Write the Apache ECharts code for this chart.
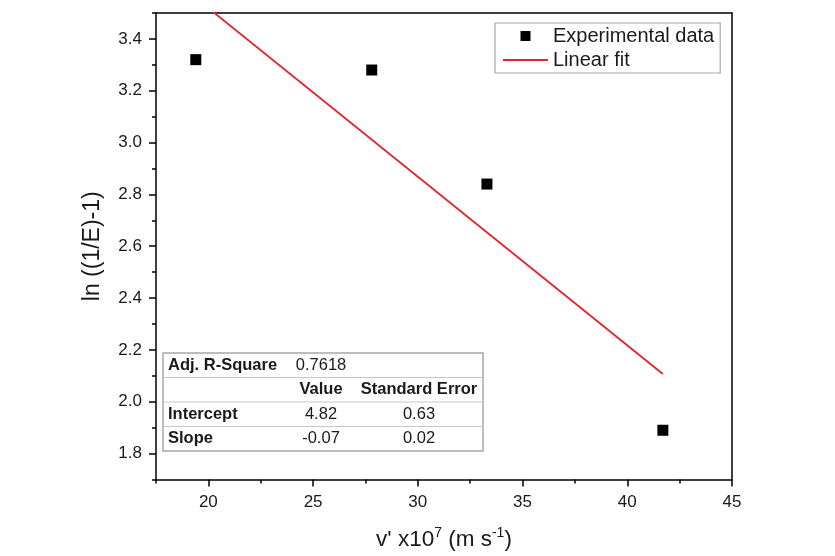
<!DOCTYPE html>
<html>
<head>
<meta charset="utf-8">
<script src="https://cdn.jsdelivr.net/npm/echarts@6/dist/echarts.min.js"></script>
<style>html,body{margin:0;padding:0;background:#fff}#c{width:835px;height:556px}</style>
</head>
<body>
<div id="c"></div>
<script>
// ---- data ----
var expX = [19.4, 27.8, 33.3, 41.7];
var expY = [3.32, 3.28, 2.84, 1.89];
var fitX = [19.4, 41.7];
var fitY = [3.558, 2.107];
var xMajor = [20, 25, 30, 35, 40, 45];
var xMinor = [17.5, 22.5, 27.5, 32.5, 37.5, 42.5];
var yMajor = [1.8, 2.0, 2.2, 2.4, 2.6, 2.8, 3.0, 3.2, 3.4];
var yMinor = [1.7, 1.9, 2.1, 2.3, 2.5, 2.7, 2.9, 3.1, 3.3, 3.5];
var tableRows = [
  ['Adj. R-Square', '0.7618', ''],
  ['', 'Value', 'Standard Error'],
  ['Intercept', '4.82', '0.63'],
  ['Slope', '-0.07', '0.02']
];
var legendNames = ['Experimental data', 'Linear fit'];

var FONT = 'Liberation Sans, Arial, sans-serif';
var TXT = '#1a1a1a';

function pairs(a, b) { return a.map(function (v, i) { return [v, b[i]]; }); }

// table graphic (annotation)
var tbl = { left: 163, top: 353, width: 320, rowH: 24.5 };
var colX = [168, 321, 419];
var tableEls = [];
tableEls.push({ type: 'rect', shape: { x: tbl.left, y: tbl.top, width: tbl.width, height: tbl.rowH * 4 },
  style: { fill: '#fff', stroke: '#a8a8a8', lineWidth: 1.5 }, z: 100 });
for (var r = 1; r < 4; r++) {
  tableEls.push({ type: 'line', shape: { x1: tbl.left, y1: tbl.top + r * tbl.rowH, x2: tbl.left + tbl.width, y2: tbl.top + r * tbl.rowH },
    style: { stroke: '#c8c8c8', lineWidth: 1 }, z: 101 });
}
tableRows.forEach(function (row, ri) {
  row.forEach(function (cell, ci) {
    if (!cell) return;
    var bold = (ci === 0) || (ri === 1);
    tableEls.push({ type: 'text', z: 102,
      x: colX[ci], y: tbl.top + ri * tbl.rowH + tbl.rowH / 2,
      style: { text: cell, font: (bold ? 'bold ' : '') + '16.5px ' + FONT, fill: TXT,
        align: ci === 0 ? 'left' : 'center', verticalAlign: 'middle' } });
  });
});

var chart = echarts.init(document.getElementById('c'), null, { renderer: 'canvas' });
chart.setOption({
  animation: false,
  backgroundColor: '#fff',
  grid: { left: 156, right: 103, top: 13, bottom: 76, containLabel: false },
  legend: {
    orient: 'vertical', left: 495, top: 23,
    padding: [3, 6, 3, 8],
    borderColor: '#a8a8a8', borderWidth: 1.2, backgroundColor: '#fff',
    itemWidth: 45, itemHeight: 10, itemGap: 4,
    symbolKeepAspect: true,
    textStyle: { fontFamily: FONT, fontSize: 20, color: TXT, lineHeight: 20 },
    data: [
      { name: legendNames[0], icon: 'path://M0,0h10v10h-10z' },
      { name: legendNames[1], icon: 'path://M0,0h45v1.8h-45z' }
    ]
  },
  xAxis: [
    {
      type: 'value', position: 'bottom', min: 17.5, max: 45,
      name: "v' x10{sup|7} (m s{sup|-1})", nameLocation: 'middle', nameGap: 47,
      nameTextStyle: { fontFamily: FONT, fontSize: 22.5, color: TXT,
        rich: { sup: { fontFamily: FONT, fontSize: 14, color: TXT, verticalAlign: 'top', padding: [0, 0, 12, 0] } } },
      axisLine: { show: true, onZero: false, lineStyle: { color: '#000', width: 1.5 } },
      axisTick: { show: true, inside: false, length: 7, customValues: xMajor, lineStyle: { color: '#000', width: 1.5 } },
      axisLabel: { show: true, customValues: xMajor, margin: 14, fontFamily: FONT, fontSize: 17, color: TXT },
      splitLine: { show: false }
    },
    {
      type: 'value', position: 'bottom', min: 17.5, max: 45,
      axisLine: { show: false, onZero: false },
      axisTick: { show: true, inside: false, length: 4, customValues: xMinor, lineStyle: { color: '#000', width: 1.5 } },
      axisLabel: { show: false },
      splitLine: { show: false }
    },
    {
      type: 'value', position: 'top', min: 17.5, max: 45,
      axisLine: { show: true, onZero: false, lineStyle: { color: '#000', width: 1.5 } },
      axisTick: { show: false }, axisLabel: { show: false }, splitLine: { show: false }
    }
  ],
  yAxis: [
    {
      type: 'value', position: 'left', min: 1.7, max: 3.5,
      name: 'ln ((1/E)-1)', nameLocation: 'middle', nameGap: 52,
      nameTextStyle: { fontFamily: FONT, fontSize: 23, color: TXT },
      axisLine: { show: true, onZero: false, lineStyle: { color: '#000', width: 1.5 } },
      axisTick: { show: true, inside: false, length: 7, customValues: yMajor, lineStyle: { color: '#000', width: 1.5 } },
      axisLabel: { show: true, customValues: yMajor, margin: 14, fontFamily: FONT, fontSize: 17, color: TXT,
        formatter: function (v) { return v.toFixed(1); } },
      splitLine: { show: false }
    },
    {
      type: 'value', position: 'left', min: 1.7, max: 3.5,
      axisLine: { show: false, onZero: false },
      axisTick: { show: true, inside: false, length: 4, customValues: yMinor, lineStyle: { color: '#000', width: 1.5 } },
      axisLabel: { show: false }, splitLine: { show: false }
    },
    {
      type: 'value', position: 'right', min: 1.7, max: 3.5,
      axisLine: { show: true, onZero: false, lineStyle: { color: '#000', width: 1.5 } },
      axisTick: { show: false }, axisLabel: { show: false }, splitLine: { show: false }
    }
  ],
  series: [
    {
      name: legendNames[0], type: 'scatter', xAxisIndex: 0, yAxisIndex: 0,
      symbol: 'rect', symbolSize: 11,
      itemStyle: { color: '#000', opacity: 1 },
      data: pairs(expX, expY), z: 5
    },
    {
      name: legendNames[1], type: 'line', xAxisIndex: 0, yAxisIndex: 0,
      symbol: 'none', clip: true,
      lineStyle: { color: '#e3232c', width: 1.8 },
      itemStyle: { color: '#e3232c' },
      data: pairs(fitX, fitY), z: 4
    }
  ],
  graphic: { elements: tableEls }
});
</script>
</body>
</html>
